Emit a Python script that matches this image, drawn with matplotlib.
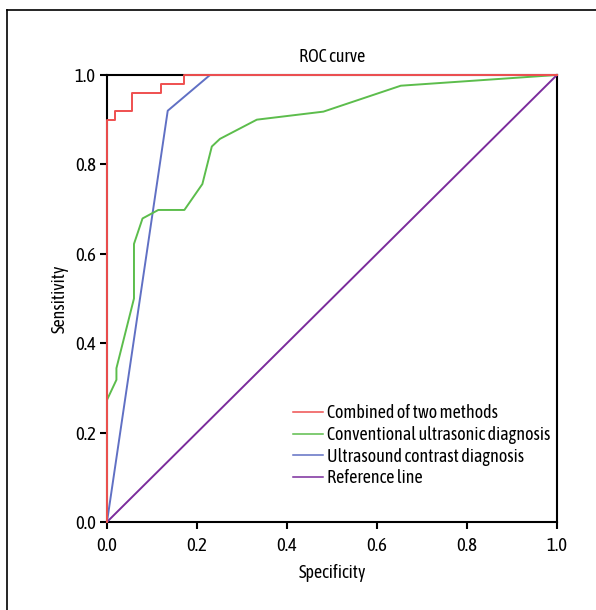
import matplotlib
matplotlib.use("Agg")
import matplotlib.pyplot as plt
from matplotlib.lines import Line2D

plt.rcParams['font.family'] = ['Asap Condensed', 'Barlow Semi Condensed', 'DejaVu Sans']

# ROC curves
combined_x = [0, 0, 0.018, 0.018, 0.056, 0.056, 0.119, 0.119, 0.171, 0.171, 1.0]
combined_y = [0, 0.90, 0.90, 0.92, 0.92, 0.96, 0.96, 0.98, 0.98, 1.0, 1.0]

conv_x = [0, 0, 0.021, 0.021, 0.060, 0.060, 0.079, 0.114, 0.172, 0.212, 0.233,
          0.251, 0.333, 0.481, 0.653, 1.0]
conv_y = [0, 0.273, 0.318, 0.344, 0.50, 0.622, 0.679, 0.698, 0.698, 0.756, 0.84,
          0.857, 0.90, 0.918, 0.976, 1.0]

contrast_x = [0, 0.135, 0.229, 1.0]
contrast_y = [0, 0.92, 1.0, 1.0]

ref_x = [0, 1]
ref_y = [0, 1]

labels = ['Combined of two methods', 'Conventional ultrasonic diagnosis',
          'Ultrasound contrast diagnosis', 'Reference line']
colors = ['#ef4f4f', '#5cbd4c', '#6070c4', '#7b2c9c']
ticks = [0.0, 0.2, 0.4, 0.6, 0.8, 1.0]

fig = plt.figure(figsize=(5.96, 6.10), dpi=100)
ax = fig.add_axes((0.1795, 0.1443, 0.7550, 0.7328))

series = [(combined_x, combined_y), (conv_x, conv_y),
          (contrast_x, contrast_y), (ref_x, ref_y)]
# draw in reverse so the red one sits on top
for (xs, ys), c, lab in list(zip(series, colors, labels))[::-1]:
    ax.plot(xs, ys, color=c, lw=1.4, clip_on=False, zorder=3)

ax.set_xlim(0, 1)
ax.set_ylim(0, 1)
ax.set_xticks(ticks)
ax.set_yticks(ticks)
ax.set_xticklabels(['%.1f' % t for t in ticks])
ax.set_yticklabels(['%.1f' % t for t in ticks])
ax.tick_params(direction='out', length=5, width=1.5, labelsize=13.5)
ax.tick_params(axis='x', pad=6)
ax.tick_params(axis='y', pad=3)
for sp in ax.spines.values():
    sp.set_linewidth(1.5)
    sp.set_zorder(2)

ax.set_title('ROC curve', fontsize=13, pad=9)
ax.set_xlabel('Specificity', fontsize=13)
ax.set_ylabel('Sensitivity', fontsize=13)
ax.xaxis.set_label_coords(0.5, -0.094)
ax.yaxis.set_label_coords(-0.086, 0.5)

handles = [Line2D([0], [0], color=c, lw=1.1) for c in colors]
ax.legend(handles, labels, loc='upper left', bbox_to_anchor=(0.397, 0.279),
          frameon=False, fontsize=13, handlelength=1.67, handletextpad=0.2,
          labelspacing=0.2, borderaxespad=0)

# outer frame around the figure
fig.add_artist(Line2D([7.5 / 596, 7.5 / 596], [0, 1 - 10 / 610],
                      transform=fig.transFigure, color='black', lw=1.2))
fig.add_artist(Line2D([7.5 / 596, 1], [1 - 10 / 610, 1 - 10 / 610],
                      transform=fig.transFigure, color='black', lw=1.2))

fig.savefig('out.png', dpi=100)
